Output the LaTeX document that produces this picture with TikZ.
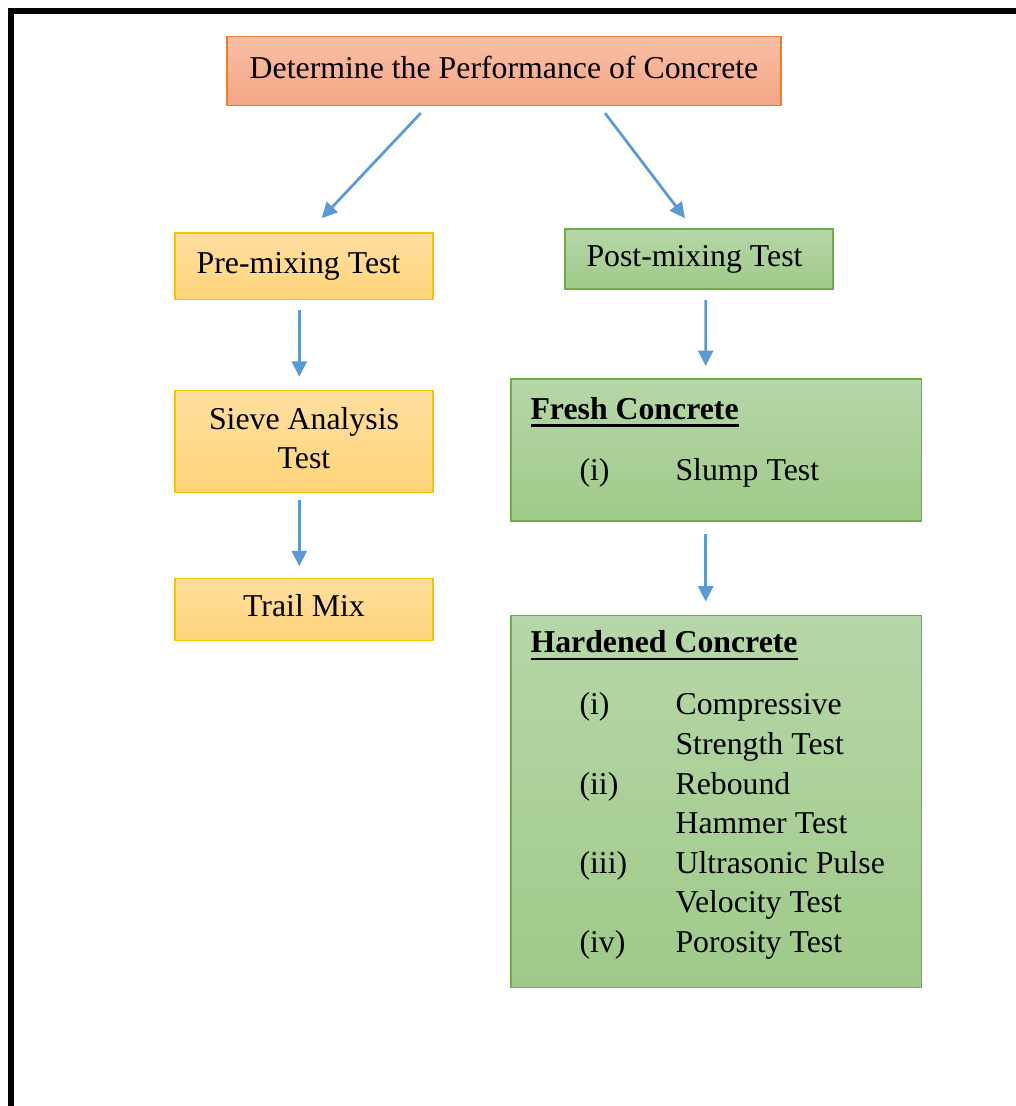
\documentclass[tikz,border=0pt]{standalone}
\usepackage{fontspec}
\setmainfont{Liberation Serif}
\usetikzlibrary{arrows.meta,positioning,calc}
\definecolor{orangeline}{HTML}{ED7D31}
\definecolor{salmontop}{HTML}{F8BFA6}
\definecolor{salmonbot}{HTML}{F4A683}
\definecolor{yellowline}{HTML}{FFC000}
\definecolor{yellowtop}{HTML}{FFDF9F}
\definecolor{yellowbot}{HTML}{FFD47A}
\definecolor{greenline}{HTML}{70AD47}
\definecolor{greentop}{HTML}{B6D7A8}
\definecolor{greenbot}{HTML}{9FCA89}
\definecolor{arrowblue}{HTML}{5B9BD5}
\newcommand{\ulhead}[1]{\setbox0\hbox{\textbf{#1}}\rlap{\rule[-4.2pt]{\wd0}{1.4pt}}\box0}
\tikzset{basic/.style={draw,line width=0.9pt,inner sep=0pt}}
\tikzset{topbox/.style={basic,draw=orangeline,top color=salmontop,bottom color=salmonbot}}
\tikzset{pretest/.style={basic,draw=yellowline,top color=yellowtop,bottom color=yellowbot,minimum width=5.166cm}}
\tikzset{posttest/.style={basic,draw=greenline,top color=greentop,bottom color=greenbot}}
\tikzset{oneline/.style={text height=12.5pt,text depth=4.5pt}}
\tikzset{listtext/.style={anchor=base west,inner sep=0pt}}
\tikzset{arrow/.style={draw=arrowblue,line width=0.055cm,-{Triangle[length=0.31cm,width=0.3cm]}}}

\begin{document}
\begin{tikzpicture}[x=0.02cm,y=-0.02cm,font=\fontsize{18.1pt}{22.5pt}\selectfont]
    % Page frame
    \useasboundingbox (0,0) rectangle (1016,1106);
    \draw[line width=0.11cm] (11,1106) -- (11,11) -- (1016,11);
    % Main node
    \node[topbox,oneline,minimum width=11.08cm,minimum height=1.374cm] (perf) at (504,71) {Determine the Performance of Concrete};
    % Pre-mixing branch
    \node[pretest,oneline,minimum height=1.332cm] (pre) at (304,266) {Pre-mixing Test\hspace*{0.22cm}};
    \node[pretest,align=center,minimum height=2.04cm,below=1.794cm of pre,font=\fontsize{18.1pt}{21.9pt}\selectfont] (sieve) {Sieve Analysis\\Test\vphantom{g}};
    \node[pretest,oneline,minimum height=1.24cm,below=1.686cm of sieve] (trail) {Trail Mix};
    % Post-mixing branch
    \node[posttest,oneline,minimum width=5.36cm,minimum height=1.2cm] (post) at (699,259) {Post-mixing Test\hspace*{0.18cm}};
    \node[posttest,minimum width=8.214cm,minimum height=2.834cm] (fresh) at (716.3,450) {};
    \node[posttest,minimum width=8.214cm,minimum height=7.434cm,below=1.866cm of fresh] (hard) {};
    % Fresh concrete list
    \node[listtext] (freshhead) at ($(fresh.north west)+(20,41)$) {\ulhead{Fresh Concrete}};
    \node[listtext] (freshnum) at ($(fresh.north west)+(69,102)$) {(i)};
    \node[listtext] (freshitem) at ($(fresh.north west)+(165,102)$) {Slump Test};
    % Hardened concrete list
    \node[listtext] (hardhead) at ($(hard.north west)+(20,38)$) {\ulhead{Hardened Concrete}};
    \foreach \txt [count=\k from 0] in {Compressive,Strength Test,Rebound,Hammer Test,Ultrasonic Pulse,Velocity Test,Porosity Test}{%
        \node[listtext] (hitem\k) at ($(hard.north west)+(165,100+39.6*\k)$) {\txt};
      }
    \foreach \num/\k in {{(i)}/0,{(ii)}/2,{(iii)}/4,{(iv)}/6}{%
        \node[listtext] (hnum\k) at ($(hard.north west)+(69,100+39.6*\k)$) {\num};
      }
    % Arrows
    \draw[arrow] ($(perf.south)+(-83.3,7)$) -- ($(pre.north)+(17.7,-13.7)$);
    \draw[arrow] ($(perf.south)+(101,7)$) -- ($(post.north)+(-14,-10)$);
    \draw[arrow] ($(pre.south)+(-4.7,10)$) -- ($(sieve.north)+(-4.7,-13)$);
    \draw[arrow] ($(sieve.south)+(-4.7,6.3)$) -- ($(trail.north)+(-4.7,-11.3)$);
    \draw[arrow] ($(post.south)+(6.7,10.3)$) -- ($(fresh.north)+(-10.6,-12.3)$);
    \draw[arrow] ($(fresh.south)+(-10.6,12.3)$) -- ($(hard.north)+(-10.6,-13.3)$);
\end{tikzpicture}
\end{document}
